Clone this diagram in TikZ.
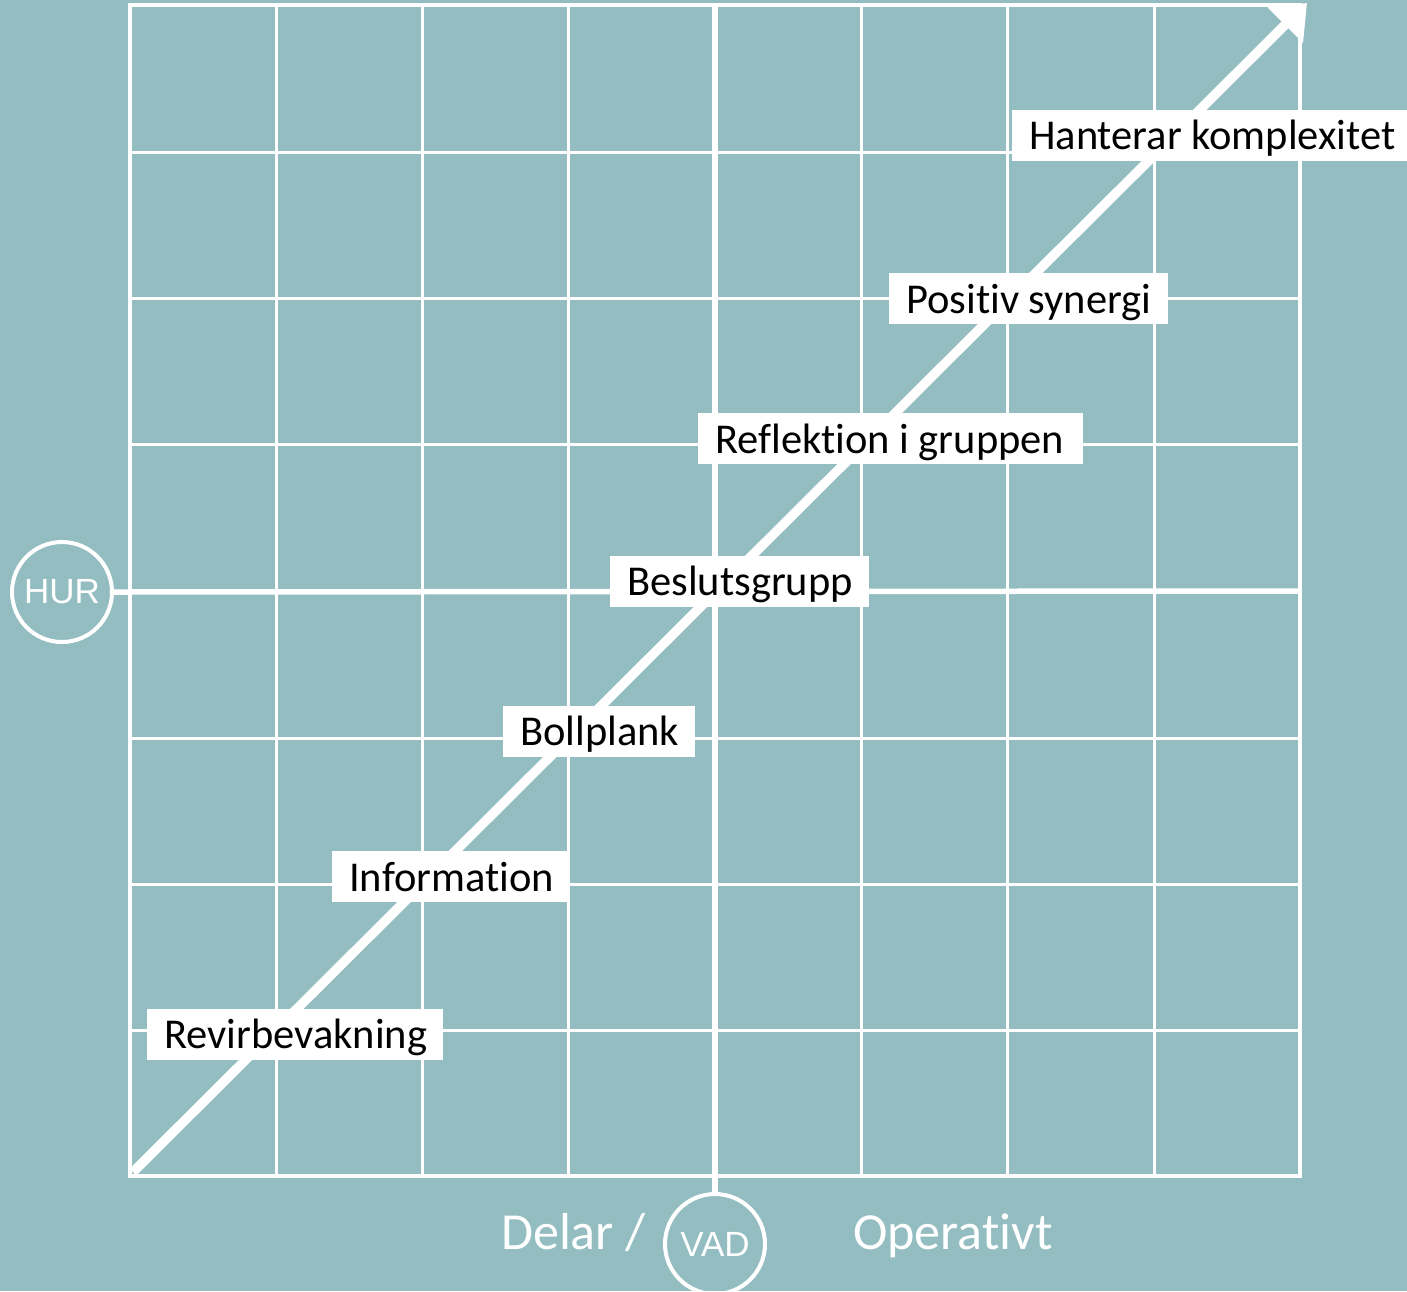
\documentclass[tikz,border=0pt]{standalone}
\usepackage{fontspec}
\setmainfont{Carlito}[Ligatures={NoCommon}]
\newfontfamily\circfont{Liberation Sans}
\usetikzlibrary{arrows.meta,shapes.geometric}
\definecolor{bg}{HTML}{93BDC1}
\newcommand\lbltxt[2]{\makebox[#1][l]{\hspace{17pt}#2}}
\tikzset{
  thingrid/.style={draw=white, line width=3pt},
  gridborder/.style={draw=white, line width=4.5pt},
  axisline/.style={draw=white, line width=5.5pt},
  mainarrow/.style={draw=white, line width=9.5pt, -{Triangle[length=31pt,width=49pt]}},
  lbl/.style={fill=white, inner sep=0pt, text height=40pt, text depth=11pt, anchor=west,
              font=\fontsize{42.5pt}{50pt}\selectfont, text=black},
  axislbl/.style={text=white, inner sep=0pt, anchor=base west, font=\fontsize{52pt}{60pt}\selectfont},
  ringnode/.style={draw=white, line width=4pt, text=white, inner sep=0pt, font=\circfont\fontsize{35pt}{40pt}\selectfont}
}
\begin{document}
\begin{tikzpicture}[x=1pt,y=-1pt]
\fill[bg] (0,0) rectangle (1407,1291);
\useasboundingbox (0,0) rectangle (1407,1291);
% grid
\foreach \x in {276,422,568,861,1007,1154} \draw[thingrid] (\x,5) -- (\x,1176);
\foreach \y in {152,298,444,738,884,1030} \draw[thingrid] (130,\y) -- (1300,\y);
\draw[gridborder] (130,5) rectangle (1300,1176);
% axis circles
\node[ringnode, circle, minimum size=100pt] (hur) at (62,592) {HUR};
\node[ringnode, circle, minimum size=100pt] (vad) at (715,1244) {VAD};
\coordinate (hend) at (1300,591);
\coordinate (vtop) at (715,5);
\draw[axisline] (hur.east) -- (hend);
\draw[axisline] (vtop) -- (vad.north);
% diagonal arrow
\coordinate (astart) at (133,1172);
\coordinate (aend) at (1307,3);
\draw[mainarrow] (astart) -- (aend);
% labels
\node[lbl] (l1) at (1012,135) {\lbltxt{398pt}{Hanterar komplexitet}};
\node[lbl] (l2) at (889,298.5) {\lbltxt{279pt}{Positiv synergi}};
\node[lbl] (l3) at (698,438.5) {\lbltxt{385pt}{Reflektion i gruppen}};
\node[lbl] (l4) at (610,581) {\lbltxt{259pt}{Beslutsgrupp}};
\node[lbl] (l5) at (503,731) {\lbltxt{192pt}{Bollplank}};
\node[lbl] (l6) at (332,876.5) {\lbltxt{236pt}{Information}};
\node[lbl] (l7) at (147,1034) {\lbltxt{296pt}{Revirbevakning}};
% bottom axis texts
\node[axislbl] (delar) at (501,1249) {Delar /};
\node[axislbl] (oper) at (853,1249) {Operativt};
\end{tikzpicture}
\end{document}
